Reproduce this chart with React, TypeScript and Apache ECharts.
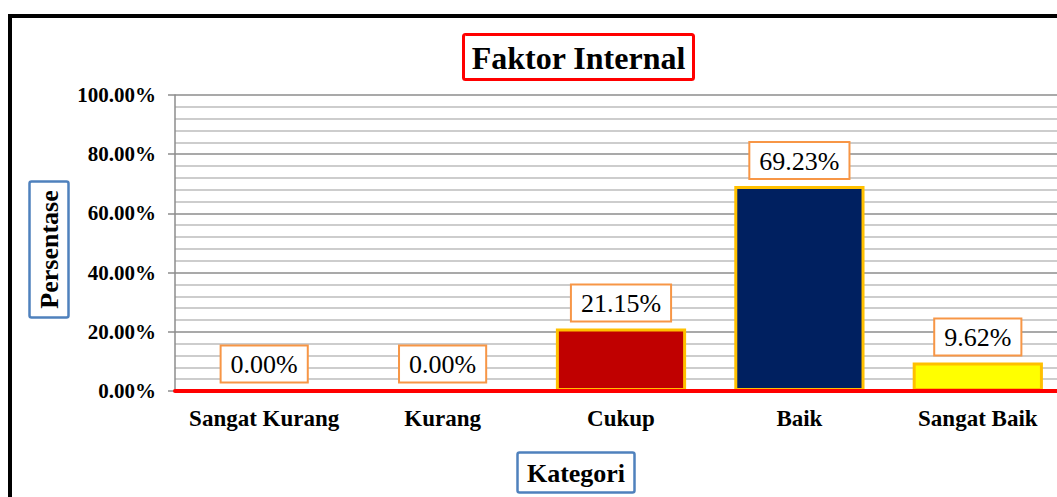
import React, { useEffect, useRef } from "react";
import * as echarts from "echarts";

const categories = ["Sangat Kurang", "Kurang", "Cukup", "Baik", "Sangat Baik"];
const values = [0, 0, 21.15, 69.23, 9.62];
const barColors = ["#C00000", "#C00000", "#C00000", "#002060", "#FFFF00"];
const yTicks = [0, 20, 40, 60, 80, 100];

const FONT = "'Liberation Serif', 'Times New Roman', serif";

export default function App() {
  const ref = useRef<HTMLDivElement>(null);
  useEffect(() => {
    if (!ref.current) return;
    const chart = echarts.init(ref.current, null, { renderer: "svg" });
    chart.setOption({
      animation: false,
      backgroundColor: "#ffffff",
      grid: { left: 175, top: 95, bottom: 106, right: 8, containLabel: false },
      xAxis: {
        type: "category",
        data: categories,
        axisLine: { show: true, lineStyle: { color: "#FF0000", width: 4 }, onZero: true },
        axisTick: { show: false },
        axisLabel: {
          interval: 0,
          hideOverlap: false,
          fontFamily: FONT,
          fontWeight: "bold",
          fontSize: 23,
          color: "#000",
          margin: 16,
        },
        z: 10,
      },
      yAxis: {
        type: "value",
        min: yTicks[0],
        max: yTicks[yTicks.length - 1],
        interval: 20,
        axisLine: { show: true, lineStyle: { color: "#8c8c8c", width: 1.5 } },
        axisTick: { show: true, length: 7, lineStyle: { color: "#8c8c8c", width: 1.5 } },
        axisLabel: {
          fontFamily: FONT,
          fontWeight: "bold",
          fontSize: 21,
          color: "#000",
          margin: 19,
          formatter: (v: number) => `${v.toFixed(2)}%`,
        },
        splitLine: { show: true, lineStyle: { color: "#8c8c8c", width: 1.5 } },
        minorTick: { show: false, splitNumber: 5 },
        minorSplitLine: { show: true, lineStyle: { color: "#bdbdbd", width: 1.5 } },
      },
      series: [
        {
          type: "bar",
          barWidth: "73%",
          data: values.map((v, i) => ({
            value: v,
            itemStyle: { color: barColors[i], borderColor: "#FFC000", borderWidth: 3 },
          })),
          label: {
            show: true,
            position: "top",
            distance: 8,
            fontFamily: FONT,
            fontSize: 26,
            color: "#000",
            backgroundColor: "#fff",
            borderColor: "#F79646",
            borderWidth: 2,
            padding: [5, 9, 4, 9],
            formatter: (p: any) => `${Number(p.value).toFixed(2)}%`,
          },
        },
      ],
      graphic: [
        {
          type: "rect",
          shape: { x: 10, y: 16, width: 1200, height: 700 },
          style: { fill: "none", stroke: "#000", lineWidth: 4 },
          silent: true,
        },
        {
          type: "rect",
          shape: { x: 463.5, y: 34.5, width: 230, height: 45, r: 2 },
          style: { fill: "#fff", stroke: "#FF0000", lineWidth: 3 },
        },
        {
          type: "text",
          x: 578.5,
          y: 58,
          style: {
            text: "Faktor Internal",
            fontFamily: FONT,
            fontWeight: "bold",
            fontSize: 32,
            fill: "#000",
            align: "center",
            verticalAlign: "middle",
          },
        },
        {
          type: "rect",
          shape: { x: 29.5, y: 181.5, width: 39, height: 136, r: 2 },
          style: { fill: "#fff", stroke: "#4F81BD", lineWidth: 2.5 },
        },
        {
          type: "text",
          x: 49,
          y: 249.5,
          rotation: Math.PI / 2,
          style: {
            text: "Persentase",
            fontFamily: FONT,
            fontWeight: "bold",
            fontSize: 26,
            fill: "#000",
            align: "center",
            verticalAlign: "middle",
          },
        },
        {
          type: "rect",
          shape: { x: 517.5, y: 452.5, width: 117, height: 40, r: 2 },
          style: { fill: "#fff", stroke: "#4F81BD", lineWidth: 2.5 },
        },
        {
          type: "text",
          x: 576,
          y: 473,
          style: {
            text: "Kategori",
            fontFamily: FONT,
            fontWeight: "bold",
            fontSize: 26,
            fill: "#000",
            align: "center",
            verticalAlign: "middle",
          },
        },
      ],
    });
    return () => chart.dispose();
  }, []);
  return (
    <div
      style={{
        position: "fixed",
        left: 0,
        top: 0,
        width: 1057,
        height: 497,
        overflow: "hidden",
        background: "#fff",
      }}
    >
      <div ref={ref} style={{ width: 1075, height: 497 }} />
    </div>
  );
}
